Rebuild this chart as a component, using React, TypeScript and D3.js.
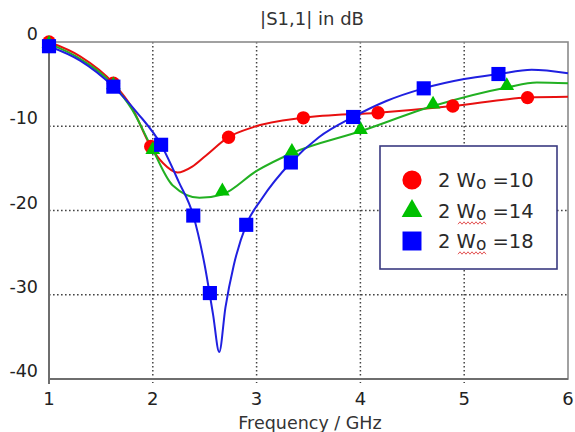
import React, { useRef, useEffect } from 'react';
import * as d3 from 'd3';

// curve samples (GHz, dB)
const redCurveF = [1.0, 1.3, 1.62, 1.8, 1.98, 2.1, 2.24, 2.38, 2.51, 2.73, 2.97, 3.45, 4.17, 4.89, 5.61, 6.0];
const redCurveDb = [0.0, -1.7, -4.9, -7.8, -12.4, -14.4, -15.5, -14.8, -13.5, -11.3, -10.1, -9.0, -8.4, -7.6, -6.6, -6.5];

const greenCurveF = [1.0, 1.3, 1.62, 1.8, 2.0, 2.19, 2.45, 2.67, 3.0, 3.34, 4.0, 4.7, 5.41, 5.7, 6.0];
const greenCurveDb = [-0.2, -2.0, -5.1, -8.0, -12.8, -17.0, -18.5, -18.1, -15.3, -13.2, -10.6, -7.6, -5.4, -4.8, -4.9];

const blueCurveF = [1.0, 1.3, 1.62, 1.85, 2.08, 2.25, 2.39, 2.5, 2.58, 2.64, 2.7, 2.78, 2.9, 3.05, 3.33, 3.6, 3.93, 4.25, 4.61, 5.0, 5.33, 5.65, 6.0];
const blueCurveDb = [-0.5, -2.2, -5.3, -8.4, -12.2, -16.6, -20.6, -26.5, -32.3, -36.8, -31.5, -26.5, -21.7, -18.6, -14.3, -11.3, -8.9, -7.0, -5.5, -4.4, -3.8, -3.3, -3.7];

// marker positions
const redMarkF = [1.0, 1.62, 1.98, 2.73, 3.45, 4.17, 4.89, 5.61];
const redMarkDb = [0.0, -4.9, -12.4, -11.3, -9.0, -8.4, -7.6, -6.6];
const greenMarkF = [1.0, 1.62, 2.0, 2.67, 3.34, 4.0, 4.7, 5.41];
const greenMarkDb = [-0.2, -5.1, -12.8, -17.7, -13.0, -10.4, -7.4, -5.2];
const blueMarkF = [1.0, 1.62, 2.08, 2.39, 2.55, 2.9, 3.33, 3.93, 4.61, 5.33];
const blueMarkDb = [-0.5, -5.3, -12.2, -20.6, -29.8, -21.7, -14.3, -8.9, -5.5, -3.8];

const freqTicks = [1, 2, 3, 4, 5, 6];
const dbTicks = [0, -10, -20, -30, -40];
const legendValues = ['10', '14', '18'];

const zip = (f: number[], v: number[]) => f.map((x, i) => [x, v[i]] as [number, number]);

const series = [
  { curve: zip(redCurveF, redCurveDb), marks: zip(redMarkF, redMarkDb), line: '#e81010', fill: '#ff0000', shape: d3.symbolCircle, size: 140, legendSize: 290 },
  { curve: zip(greenCurveF, greenCurveDb), marks: zip(greenMarkF, greenMarkDb), line: '#22b022', fill: '#00c000', shape: d3.symbolTriangle, size: 95, legendSize: 185 },
  { curve: zip(blueCurveF, blueCurveDb), marks: zip(blueMarkF, blueMarkDb), line: '#2020e0', fill: '#0000ff', shape: d3.symbolSquare, size: 200, legendSize: 360 },
];

const App = () => {
  const svgRef = useRef<SVGSVGElement>(null);

  useEffect(() => {
    const svg = d3.select(svgRef.current);
    svg.selectAll('*').remove();

    const left = 49, right = 568, top = 42, bottom = 379;
    const x = d3.scaleLinear().domain([1, 6]).range([left, right]);
    const y = d3.scaleLinear().domain([-40, 0]).range([bottom, top]);
    const font = '"DejaVu Sans", Verdana, sans-serif';

    svg.append('rect').attr('width', 575).attr('height', 432).attr('fill', 'white');

    // grid
    svg.selectAll('.gx').data(freqTicks.slice(1, -1)).enter().append('line')
      .attr('x1', d => x(d)).attr('x2', d => x(d)).attr('y1', top).attr('y2', bottom + 4)
      .style('stroke', '#444').style('stroke-width', 1.5).style('stroke-dasharray', '1.6,2.4');
    svg.selectAll('.gy').data(dbTicks.slice(1, -1)).enter().append('line')
      .attr('x1', left).attr('x2', right).attr('y1', d => y(d)).attr('y2', d => y(d))
      .style('stroke', '#444').style('stroke-width', 1.5).style('stroke-dasharray', '1.6,2.4');

    // frame
    svg.append('rect').attr('x', left).attr('y', top).attr('width', right - left).attr('height', bottom - top)
      .attr('fill', 'none').style('stroke', '#8a8a8a').style('stroke-width', 1.6);
    svg.append('line').attr('x1', left).attr('x2', left).attr('y1', top).attr('y2', bottom)
      .style('stroke', '#6e6e6e').style('stroke-width', 2);
    svg.append('line').attr('x1', left).attr('x2', right).attr('y1', bottom).attr('y2', bottom)
      .style('stroke', '#6e6e6e').style('stroke-width', 2);
    svg.append('line').attr('x1', x(1)).attr('x2', x(1)).attr('y1', bottom).attr('y2', bottom + 5)
      .style('stroke', '#6e6e6e').style('stroke-width', 2);

    // tick labels
    svg.selectAll('.tx').data(freqTicks).enter().append('text')
      .attr('x', d => x(d)).attr('y', 405).attr('text-anchor', 'middle')
      .style('font-family', font).style('font-size', '18px').style('fill', '#222')
      .text(d => d);
    svg.selectAll('.ty').data(dbTicks).enter().append('text')
      .attr('x', 38).attr('y', d => y(d) - 2).attr('text-anchor', 'end')
      .style('font-family', font).style('font-size', '17.5px').style('fill', '#222')
      .text(d => d);

    svg.append('text').attr('x', 312).attr('y', 25).attr('text-anchor', 'middle')
      .style('font-family', font).style('font-size', '18px').style('fill', '#333')
      .text('|S1,1| in dB');
    svg.append('text').attr('x', 310).attr('y', 429).attr('text-anchor', 'middle')
      .style('font-family', font).style('font-size', '17.5px').style('fill', '#333')
      .text('Frequency / GHz');

    // curves
    const line = d3.line<[number, number]>()
      .x(d => x(d[0])).y(d => y(d[1]))
      .curve(d3.curveMonotoneX);
    series.forEach(s => {
      svg.append('path').datum(s.curve).attr('d', line)
        .style('fill', 'none').style('stroke', s.line).style('stroke-width', 2)
        .style('stroke-linejoin', 'round');
    });

    // markers
    series.forEach(s => {
      const sym = d3.symbol().type(s.shape).size(s.size);
      svg.selectAll(null).data(s.marks).enter().append('path')
        .attr('d', sym)
        .attr('transform', d => `translate(${x(d[0])},${y(d[1])})`)
        .style('fill', s.fill);
    });

    // legend
    const lg = svg.append('g');
    lg.append('rect').attr('x', 380).attr('y', 146).attr('width', 177).attr('height', 123)
      .attr('fill', 'white').style('stroke', '#3a3a80').style('stroke-width', 1.6);
    const rowY = [180, 211, 241];
    series.forEach((s, i) => {
      const sym = d3.symbol().type(s.shape).size(s.legendSize);
      lg.append('path').attr('d', sym)
        .attr('transform', `translate(412,${rowY[i]})`)
        .style('fill', s.fill);
      const t = lg.append('text').attr('x', 438).attr('y', rowY[i] + 7)
        .style('font-family', font).style('font-size', '19.5px').style('fill', '#2a2a2a');
      t.append('tspan').text('2 W');
      t.append('tspan').attr('dy', 2).style('font-size', '17px').text('o');
      t.append('tspan').attr('dy', -2).text(' =' + legendValues[i]);
      if (i > 0) {
        // spell-check squiggle under "Wo"
        const sq = d3.range(0, 15).map(k => [458 + k * 2, rowY[i] + 12 + (k % 2 ? -1.2 : 1.2)] as [number, number]);
        lg.append('path').attr('d', d3.line()(sq))
          .style('fill', 'none').style('stroke', '#e04040').style('stroke-width', 0.9);
      }
    });
  }, []);

  return (
    <svg ref={svgRef} width={575} height={432} style={{ position: 'absolute', left: 0, top: 0, display: 'block' }} />
  );
};

export default App;
